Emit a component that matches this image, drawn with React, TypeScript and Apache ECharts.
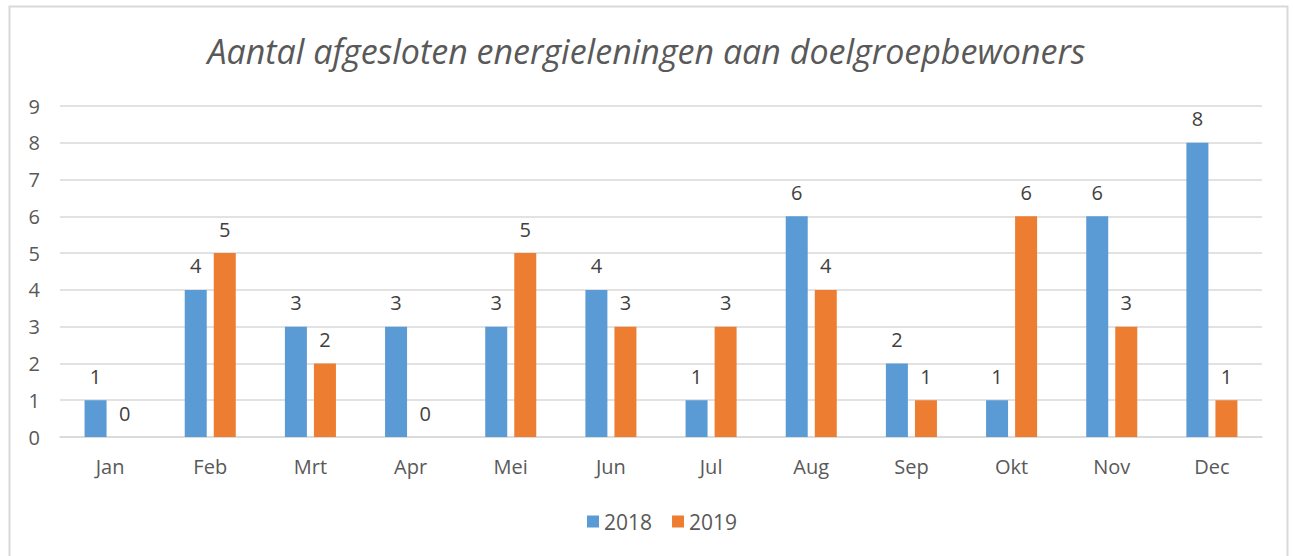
import React, { useEffect, useRef } from "react";
import * as echarts from "echarts";

const title = "Aantal afgesloten energieleningen aan doelgroepbewoners";
const months = ["Jan", "Feb", "Mrt", "Apr", "Mei", "Jun", "Jul", "Aug", "Sep", "Okt", "Nov", "Dec"];
const values2018 = [1, 4, 3, 3, 3, 4, 1, 6, 2, 1, 6, 8];
const values2019 = [0, 5, 2, 0, 5, 3, 3, 4, 1, 6, 3, 1];
const seriesNames = ["2018", "2019"];

export default function App() {
  const ref = useRef<HTMLDivElement>(null);
  useEffect(() => {
    if (!ref.current) return;
    const chart = echarts.init(ref.current, undefined, { renderer: "svg" });
    const font = "'Open Sans', 'Liberation Sans', sans-serif";
    const labelStyle = { show: true, position: "top" as const, color: "#404040", fontSize: 20, fontFamily: font, distance: 14 };
    chart.setOption({
      animation: false,
      backgroundColor: "#ffffff",
      title: {
        text: title,
        left: "center",
        top: 29,
        textStyle: { fontFamily: font, fontStyle: "italic", fontWeight: "normal", fontSize: 34, color: "#595959" },
      },
      graphic: [
        {
          type: "rect",
          shape: { x: 9.5, y: 6.5, width: 1278, height: 560 },
          style: { fill: "none", stroke: "#D9D9D9", lineWidth: 2 },
          silent: true,
        },
      ],
      legend: {
        data: seriesNames,
        bottom: 19,
        left: 582,
        icon: "rect",
        itemWidth: 12,
        itemHeight: 12,
        itemGap: 20,
        itemTextGap: 6,
        textStyle: { fontFamily: font, fontSize: 21, color: "#595959" },
      },
      grid: { left: 60, right: 31, top: 106, bottom: 119, containLabel: false },
      xAxis: {
        type: "category",
        data: months,
        axisLine: { lineStyle: { color: "#D9D9D9", width: 1.5 } },
        axisTick: { show: false },
        axisLabel: { fontFamily: font, fontSize: 20, color: "#595959", margin: 19 },
      },
      yAxis: {
        type: "value",
        min: 0,
        max: 9,
        interval: 1,
        axisLine: { show: false },
        axisTick: { show: false },
        splitLine: { lineStyle: { color: "#D9D9D9", width: 1.5 } },
        axisLabel: { fontFamily: font, fontSize: 20, color: "#595959", margin: 20 },
      },
      series: [
        {
          name: seriesNames[0],
          type: "bar",
          data: values2018,
          barWidth: 22,
          barGap: "32%",
          itemStyle: { color: "#5B9BD5" },
          label: labelStyle,
        },
        {
          name: seriesNames[1],
          type: "bar",
          data: values2019,
          barWidth: 22,
          itemStyle: { color: "#ED7D31" },
          label: labelStyle,
        },
      ],
    });
    return () => chart.dispose();
  }, []);
  return <div ref={ref} style={{ position: "absolute", left: 0, top: 0, width: 1293, height: 556 }} />;
}
